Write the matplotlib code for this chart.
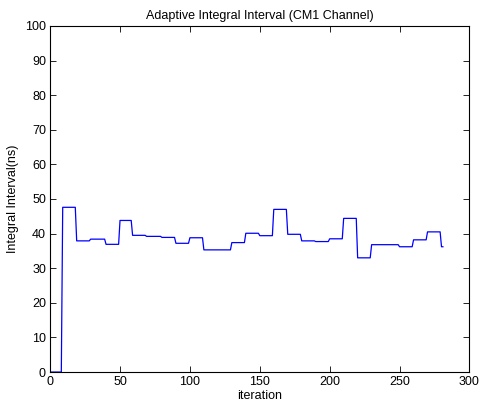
import numpy as np
import matplotlib
matplotlib.use("Agg")
import matplotlib.pyplot as plt

plt.rcParams['font.family'] = ['Liberation Sans', 'DejaVu Sans']

# Block start iterations and the interval level (ns) held in each block
block_start = [1, 9, 19, 29, 40, 50, 59, 69, 80, 90, 100, 110, 130, 140, 150,
               160, 170, 180, 190, 200, 210, 220, 230, 250, 260, 270, 280]
block_level = [0, 47.6, 37.9, 38.4, 36.9, 43.8, 39.5, 39.2, 38.9, 37.2, 38.8,
               35.3, 37.4, 40.1, 39.4, 47.0, 39.8, 37.9, 37.7, 38.5, 44.4,
               33.0, 36.8, 36.2, 38.2, 40.5, 36.2]
last_iter = 281

title = "Adaptive Integral Interval (CM1 Channel)"
xlabel = "iteration"
ylabel = "Integral Interval(ns)"
xticks = [0, 50, 100, 150, 200, 250, 300]
yticks = [0, 10, 20, 30, 40, 50, 60, 70, 80, 90, 100]

# per-iteration series (each sample takes the level of its block)
iters = np.arange(1, last_iter + 1)
idx = np.searchsorted(block_start, iters, side='right') - 1
values = np.array(block_level)[idx]

fig = plt.figure(figsize=(4.82, 4.12), dpi=100)
ax = fig.add_axes([0.104, 0.097, 0.870, 0.840])
ax.plot(iters, values, color=(0, 0, 1), linewidth=0.9)

ax.set_xlim(0, 300)
ax.set_ylim(0, 100)
ax.set_xticks(xticks)
ax.set_yticks(yticks)
ax.tick_params(direction='in', top=True, right=True, length=4, width=0.6,
               labelsize=9, pad=3, colors='black')
for s in ax.spines.values():
    s.set_linewidth(0.8)
ax.set_title(title, fontsize=9, pad=5)
ax.set_xlabel(xlabel, fontsize=9, labelpad=1)
ax.set_ylabel(ylabel, fontsize=9, labelpad=4)

fig.savefig("out.png", dpi=100)
